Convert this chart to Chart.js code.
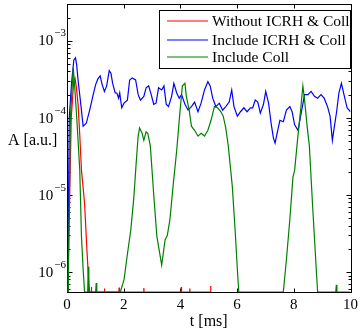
<!DOCTYPE html>
<html>
<head>
<meta charset="utf-8">
<script src="https://cdn.jsdelivr.net/npm/chart.js@4.4.1/dist/chart.umd.min.js"></script>
<style>
    body { margin: 0; background: #fff; }
</style>
</head>
<body>
<canvas id="chart" width="362" height="336"></canvas>
<script>
// values that sit on the lower axis limit (clipped in the original plot)
const floor = 5.5e-7;
const below = 1e-8;

const seriesNames = ['Without ICRH & Coll', 'Include ICRH & Coll', 'Include Coll'];
const seriesColors = ['#ff0000', '#0000ff', '#008000'];

// Without ICRH & Coll
const tRed = [0, 0.04, 0.15, 0.24, 0.28, 0.33, 0.39, 0.45, 0.51, 0.62, 0.70, 0.77, 0.80,
    0.85, 0.86, 0.87, 1.31, 1.32, 1.33, 1.83, 1.84, 1.85, 2.70, 2.71, 2.72,
    4.02, 4.03, 4.04, 4.32, 4.33, 4.34, 5.06, 5.07];
const aRed = [below, 1e-6, 1.0e-4, 3.1e-4, 3.3e-4, 2.5e-4, 1.5e-4, 6e-5, 2.1e-5, 7.8e-6, 2.0e-6, 7.1e-7, floor,
    floor, 6.4e-7, floor, floor, 6.1e-7, floor, floor, 6.3e-7, floor, floor, 6.2e-7, floor,
    floor, 6.4e-7, floor, floor, 6.1e-7, floor, floor, 6.6e-7];

// Include ICRH & Coll
const tBlue = [0, 0.03, 0.08, 0.16, 0.24, 0.30, 0.34, 0.39, 0.47, 0.57, 0.68, 0.80, 0.91, 1.01, 1.09, 1.17,
    1.24, 1.32, 1.40, 1.49, 1.55, 1.61, 1.70, 1.76, 1.82, 1.86, 1.93, 2.01, 2.13, 2.21, 2.30, 2.42,
    2.51, 2.59, 2.71, 2.79, 2.88, 2.97, 3.06, 3.14, 3.23, 3.34, 3.42, 3.50, 3.58, 3.69, 3.77, 3.87,
    3.96, 4.04, 4.16, 4.27, 4.39, 4.50, 4.62, 4.73, 4.85, 4.97, 5.05, 5.14, 5.25, 5.37, 5.49, 5.60,
    5.72, 5.81, 5.89, 6.01, 6.12, 6.24, 6.35, 6.47, 6.55, 6.64, 6.73, 6.82, 6.93, 7.01, 7.11, 7.20,
    7.28, 7.34, 7.40, 7.51, 7.63, 7.74, 7.86, 7.94, 8.03, 8.15, 8.26, 8.38, 8.50, 8.61, 8.73, 8.84,
    8.96, 9.07, 9.19, 9.28, 9.36, 9.44, 9.51, 9.59, 9.68, 9.77, 9.88, 10.0];
const aBlue = [below, 1e-6, 1.0e-4, 2.8e-4, 5.6e-4, 6.0e-4, 4.9e-4, 3.1e-4, 1.7e-4, 7.8e-5, 8.5e-5, 1.26e-4, 1.9e-4, 2.7e-4, 3.2e-4, 3.5e-4,
    2.7e-4, 2.2e-4, 2.6e-4, 4.1e-4, 3.8e-4, 2.8e-4, 2.1e-4, 2.1e-4, 1.8e-4, 2.1e-4, 1.35e-4, 1.55e-4, 1.7e-4, 3.1e-4, 3.3e-4, 3.1e-4,
    2.0e-4, 1.7e-4, 1.9e-4, 2.45e-4, 2.6e-4, 2.0e-4, 1.5e-4, 1.55e-4, 2.45e-4, 2.3e-4, 2.6e-4, 1.5e-4, 1.4e-4, 1.9e-4, 2.8e-4, 2.1e-4,
    1.8e-4, 2.0e-4, 1.5e-4, 1.26e-4, 1.4e-4, 1.6e-4, 1.2e-4, 1.55e-4, 2.3e-4, 2.95e-4, 2.6e-4, 1.8e-4, 1.4e-4, 1.55e-4, 1.26e-4, 1.4e-4,
    1.6e-4, 2.3e-4, 1.4e-4, 1.05e-4, 1.2e-4, 1.35e-4, 1.2e-4, 1.35e-4, 1.35e-4, 1.7e-4, 1.6e-4, 1.15e-4, 1.5e-4, 2.2e-4, 1.55e-4, 8.5e-5,
    5.5e-5, 4.7e-5, 6.0e-5, 9.3e-5, 8.9e-5, 1.26e-4, 1.4e-4, 1.2e-4, 8.1e-5, 6.9e-5, 1.15e-4, 2.0e-4, 2.0e-4, 2.2e-4, 1.9e-4, 1.8e-4,
    2.0e-4, 1.8e-4, 1.4e-4, 1.05e-4, 5.1e-5, 8.1e-5, 1.2e-4, 2.1e-4, 2.8e-4, 2.0e-4, 1.35e-4, 1.2e-4];

// Include Coll
const tGreen = [0, 0.05, 0.12, 0.22, 0.28, 0.34, 0.39, 0.45, 0.51, 0.57, 0.62, 0.73, 0.75, 0.77,
    1.01, 1.03, 1.05, 1.88, 2.01, 2.13, 2.25, 2.36, 2.44, 2.51, 2.56, 2.65, 2.71, 2.79, 2.85, 2.94,
    3.06, 3.17, 3.34, 3.46, 3.54, 3.63, 3.75, 3.87, 3.98, 4.07, 4.16, 4.21, 4.31, 4.39, 4.50, 4.62,
    4.73, 4.85, 4.97, 5.08, 5.20, 5.31, 5.43, 5.51, 5.60, 5.69, 5.83, 5.93, 6.01, 6.06, 7.63, 7.74,
    7.86, 7.97, 8.03, 8.13, 8.24, 8.32, 8.38, 8.47, 8.55, 8.67, 8.78, 8.84, 9.48, 9.50, 9.52, 10.0];
const aGreen = [below, 1e-6, 1.0e-4, 4.5e-4, 2.3e-4, 1.05e-4, 5.1e-5, 2.1e-5, 2.9e-6, 1.07e-6, floor, floor, 1.17e-6, floor,
    floor, 7.2e-7, floor, floor, 7.9e-7, 1.7e-6, 3.5e-6, 9.5e-6, 2.6e-5, 5.8e-5, 7.4e-5, 6.3e-5, 5.1e-5, 6.6e-5, 6.3e-5, 4.3e-5,
    1.0e-5, 2.9e-6, 1.23e-6, 2.6e-6, 3.0e-6, 4.8e-6, 1.4e-5, 3.8e-5, 1.15e-4, 2.6e-4, 2.8e-4, 1.9e-4, 1.26e-4, 7.8e-5, 6.9e-5, 5.8e-5,
    6.3e-5, 5.8e-5, 6.9e-5, 9.3e-5, 1.4e-4, 1.35e-4, 1.2e-4, 1.05e-4, 7.4e-5, 4.3e-5, 1.3e-5, 3.5e-6, 1.07e-6, floor, floor, 1.45e-6,
    4.8e-6, 1.7e-5, 2.1e-5, 5.1e-5, 1.26e-4, 2.6e-4, 1.7e-4, 7.8e-5, 4.3e-5, 6.5e-6, 1.3e-6, floor, floor, 6.8e-7, floor, floor];

const xTicks = [0, 2, 4, 6, 8, 10];
const yDecades = [-6, -5, -4, -3];

const FONT = '"Liberation Serif", serif';

function toPoints(ts, as) {
    return ts.map((t, i) => ({ x: t, y: as[i] }));
}

// MATLAB-like box with inward ticks, y labels with exponents, horizontal y title, boxed legend
const axesPlugin = {
    id: 'matlabAxes',
    beforeDatasetsDraw(chart) {
        const { ctx, chartArea: a, scales: { x, y } } = chart;
        const L = Math.round(a.left) + 0.5, R = Math.round(a.right) + 0.5;
        const T = Math.round(a.top) + 0.5, B = Math.round(a.bottom) + 0.5;
        ctx.save();
        ctx.strokeStyle = '#000';
        ctx.lineWidth = 1;
        ctx.strokeRect(L, T, R - L, B - T);
        ctx.beginPath();
        xTicks.forEach(v => {
            const px = Math.round(x.getPixelForValue(v)) + 0.5;
            ctx.moveTo(px, B); ctx.lineTo(px, B - 4);
            ctx.moveTo(px, T); ctx.lineTo(px, T + 4);
        });
        for (let e = -7; e <= -2; e++) {
            for (let m = 1; m <= 9; m++) {
                const v = m * Math.pow(10, e);
                if (v < y.min || v > y.max) continue;
                const py = Math.round(y.getPixelForValue(v)) + 0.5;
                const len = m === 1 ? 5 : 3;
                ctx.moveTo(L, py); ctx.lineTo(L + len, py);
                ctx.moveTo(R, py); ctx.lineTo(R - len, py);
            }
        }
        ctx.stroke();
        ctx.restore();
    },
    afterDraw(chart) {
        const { ctx, chartArea: a, scales: { y } } = chart;
        ctx.save();
        ctx.fillStyle = '#000';
        ctx.textBaseline = 'alphabetic';
        yDecades.forEach(e => {
            const py = y.getPixelForValue(Math.pow(10, e));
            ctx.font = '11px ' + FONT;
            ctx.textAlign = 'right';
            const sup = '\u2212' + Math.abs(e);
            const supW = ctx.measureText(sup).width;
            ctx.fillText(sup, a.left - 1, py - 4.3);
            ctx.font = '15px ' + FONT;
            ctx.fillText('10', a.left - 2 - supW, py + 4.7);
        });
        ctx.font = '16px ' + FONT;
        ctx.textAlign = 'left';
        ctx.fillText('A [a.u.]', 8, 145);

        // legend box in the upper right corner
        const bx = 159.5, by = 10.5, bw = 191, bh = 58;
        const rows = [21, 40, 57];
        ctx.fillStyle = '#fff';
        ctx.fillRect(bx, by, bw, bh);
        ctx.strokeStyle = '#000';
        ctx.lineWidth = 1;
        ctx.strokeRect(bx, by, bw, bh);
        ctx.font = '15.5px ' + FONT;
        ctx.textBaseline = 'middle';
        chart.data.datasets.forEach((ds, i) => {
            ctx.strokeStyle = ds.borderColor;
            ctx.lineWidth = 1.2;
            ctx.beginPath();
            ctx.moveTo(167, rows[i]);
            ctx.lineTo(208, rows[i]);
            ctx.stroke();
            ctx.fillStyle = '#000';
            ctx.fillText(ds.label, 212, rows[i] + 0.5);
        });
        ctx.restore();
    }
};

const ctx = document.getElementById('chart').getContext('2d');
const chart = new Chart(ctx, {
    type: 'line',
    data: {
        datasets: [
            { label: seriesNames[0], data: toPoints(tRed, aRed), borderColor: seriesColors[0], order: 2 },
            { label: seriesNames[1], data: toPoints(tBlue, aBlue), borderColor: seriesColors[1], order: 1 },
            { label: seriesNames[2], data: toPoints(tGreen, aGreen), borderColor: seriesColors[2], order: 0 }
        ]
    },
    options: {
        responsive: false,
        animation: false,
        events: [],
        elements: {
            line: { borderWidth: 1.2, tension: 0 },
            point: { radius: 0 }
        },
        layout: { padding: { top: 4, right: 7, left: 0, bottom: 0 } },
        plugins: {
            legend: { display: false },
            tooltip: { enabled: false }
        },
        scales: {
            x: {
                type: 'linear',
                min: 0,
                max: 10,
                afterBuildTicks: scale => { scale.ticks = xTicks.map(v => ({ value: v })); },
                ticks: { color: '#000', font: { family: FONT, size: 15 }, padding: 4, maxRotation: 0 },
                grid: { display: false, drawTicks: false },
                border: { display: false },
                title: { display: true, text: 't [ms]', color: '#000', font: { family: FONT, size: 16 }, padding: { top: 0, bottom: 5 } },
                afterFit: scale => { scale.height = 44; }
            },
            y: {
                type: 'logarithmic',
                min: 5.5e-7,
                max: 3.0e-3,
                ticks: { display: false },
                grid: { display: false, drawTicks: false },
                border: { display: false },
                afterFit: scale => { scale.width = 67; }
            }
        }
    },
    plugins: [axesPlugin]
});
</script>
</body>
</html>
